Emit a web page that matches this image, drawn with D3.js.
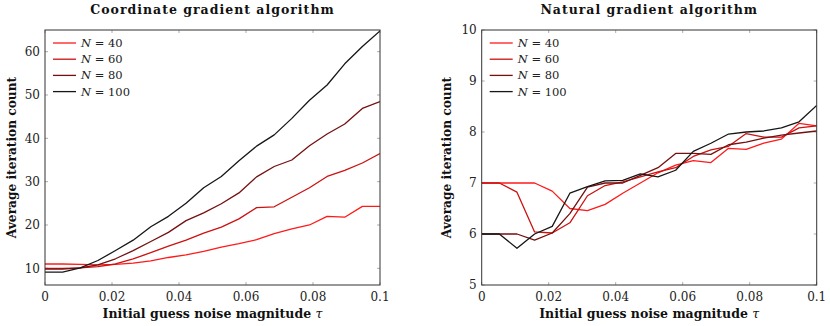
<!DOCTYPE html>
<html>
<head>
<meta charset="utf-8">
<script src="https://cdn.jsdelivr.net/npm/d3@7"></script>
<style>
  body { margin: 0; background: #fff; }
  svg { display: block; }
</style>
</head>
<body>
<svg id="chart" width="830" height="326"></svg>
<script>
// --- data ---
const tau = d3.range(20).map(i => i * 0.1 / 19);
const seriesNames = ["N = 40", "N = 60", "N = 80", "N = 100"];
const seriesColors = ["#ff1a1a", "#cc1111", "#741010", "#161616"];

// coordinate gradient
const coordN40 = [11, 11, 10.9, 10.8, 10.9, 11.2, 11.7, 12.5, 13.1, 13.9, 14.9, 15.7, 16.6, 18, 19.1, 20, 22, 21.8, 24.3, 24.3];
const coordN60 = [10, 10, 10.1, 10.4, 11, 12.2, 13.6, 15.1, 16.5, 18.1, 19.5, 21.4, 24, 24.2, 26.4, 28.6, 31.2, 32.6, 34.3, 36.5];
const coordN80 = [9.8, 9.8, 10.1, 10.8, 12.2, 14.1, 16.2, 18.3, 21, 22.8, 24.9, 27.4, 31.1, 33.5, 35, 38.3, 41, 43.3, 46.9, 48.5];
const coordN100 = [9.1, 9.1, 10.1, 11.8, 14.1, 16.5, 19.6, 22, 25, 28.6, 31.2, 34.8, 38.2, 40.8, 44.6, 48.8, 52.3, 57.2, 61.2, 64.8];

// natural gradient
const natN40 = [7, 7, 7, 7, 6.84, 6.5, 6.46, 6.58, 6.8, 7.0, 7.2, 7.35, 7.44, 7.4, 7.68, 7.66, 7.78, 7.86, 8.17, 8.12];
const natN60 = [7, 7, 6.82, 6.04, 6.02, 6.22, 6.75, 6.95, 7.02, 7.12, 7.22, 7.3, 7.52, 7.65, 7.72, 7.97, 7.9, 7.9, 8.08, 8.12];
const natN80 = [6, 6, 6, 5.88, 6.02, 6.4, 6.92, 7.0, 7.0, 7.15, 7.3, 7.58, 7.58, 7.56, 7.75, 7.8, 7.88, 7.94, 7.98, 8.02];
const natN100 = [6, 6, 5.72, 6.0, 6.15, 6.8, 6.93, 7.04, 7.05, 7.18, 7.12, 7.25, 7.62, 7.78, 7.96, 8.0, 8.02, 8.08, 8.2, 8.52];

const xTicks = [0, 0.02, 0.04, 0.06, 0.08, 0.1];
const coordYTicks = [10, 20, 30, 40, 50, 60];
const natYTicks = [5, 6, 7, 8, 9, 10];

const serif = "DejaVu Serif, serif";
const svg = d3.select("#chart");

function panel(opts) {
  const { left, right, top, bottom, yDomain, yTicks, series, title, yLabelX } = opts;
  const g = svg.append("g");
  const x = d3.scaleLinear().domain([0, 0.1]).range([left, right]);
  const y = d3.scaleLinear().domain(yDomain).range([bottom, top]);

  // ticks (inward, on all four sides)
  const tl = 3;
  xTicks.forEach(t => {
    g.append("line").attr("x1", x(t)).attr("x2", x(t)).attr("y1", bottom).attr("y2", bottom - tl)
      .attr("stroke", "#999").attr("stroke-width", 0.8);
    g.append("line").attr("x1", x(t)).attr("x2", x(t)).attr("y1", top).attr("y2", top + tl)
      .attr("stroke", "#999").attr("stroke-width", 0.8);
    g.append("text").attr("x", x(t)).attr("y", bottom + 16).attr("text-anchor", "middle")
      .style("font-family", serif).style("font-size", "12px").attr("fill", "#222")
      .text(t === 0 ? "0" : d3.format("~g")(t));
  });
  yTicks.forEach(t => {
    g.append("line").attr("x1", left).attr("x2", left + tl).attr("y1", y(t)).attr("y2", y(t))
      .attr("stroke", "#999").attr("stroke-width", 0.8);
    g.append("line").attr("x1", right).attr("x2", right - tl).attr("y1", y(t)).attr("y2", y(t))
      .attr("stroke", "#999").attr("stroke-width", 0.8);
    g.append("text").attr("x", left - 5).attr("y", y(t)).attr("dy", "0.35em").attr("text-anchor", "end")
      .style("font-family", serif).style("font-size", "12px").attr("fill", "#222")
      .text(t);
  });

  // lines
  const line = d3.line().x((d, i) => x(tau[i])).y(d => y(d));
  const clipId = "clip" + Math.round(left);
  g.append("clipPath").attr("id", clipId).append("rect")
    .attr("x", left).attr("y", top).attr("width", right - left).attr("height", bottom - top);
  series.forEach((s, k) => {
    g.append("path").datum(s).attr("d", line).attr("fill", "none")
      .attr("stroke", seriesColors[k]).attr("stroke-width", 1.3)
      .attr("stroke-linejoin", "round").attr("clip-path", `url(#${clipId})`);
  });

  // frame
  g.append("rect").attr("x", left).attr("y", top).attr("width", right - left).attr("height", bottom - top)
    .attr("fill", "none").attr("stroke", "#333").attr("stroke-width", 1);

  // legend
  series.forEach((s, k) => {
    const ly = top + 13 + k * 16.2;
    g.append("line").attr("x1", left + 8).attr("x2", left + 31).attr("y1", ly).attr("y2", ly)
      .attr("stroke", seriesColors[k]).attr("stroke-width", 1.3);
    const t = g.append("text").attr("x", left + 36).attr("y", ly).attr("dy", "0.35em")
      .style("font-family", serif).style("font-size", "11.5px").attr("fill", "#222");
    const parts = seriesNames[k].split(" = ");
    t.append("tspan").style("font-style", "italic").text(parts[0]);
    t.append("tspan").text(" = " + parts[1]);
  });

  // title
  g.append("text").attr("x", (left + right) / 2).attr("y", 14).attr("text-anchor", "middle")
    .style("font-family", serif).style("font-size", "12.5px").style("font-weight", "bold")
    .style("letter-spacing", "1px").attr("fill", "#111").text(title);

  // x label
  const xl = g.append("text").attr("x", (left + right) / 2).attr("y", 318).attr("text-anchor", "middle")
    .style("font-family", serif).style("font-size", "12.5px").style("font-weight", "bold").attr("fill", "#111");
  xl.append("tspan").text("Initial guess noise magnitude ");
  xl.append("tspan").style("font-style", "italic").style("font-weight", "normal").text("τ");

  // y label
  g.append("text").attr("transform", `translate(${yLabelX},${(top + bottom) / 2}) rotate(-90)`)
    .attr("text-anchor", "middle").attr("dy", "0.35em")
    .style("font-family", serif).style("font-size", "12.2px").style("font-weight", "bold")
    .attr("fill", "#111").text("Average iteration count");
}

panel({
  left: 45, right: 380, top: 30, bottom: 285,
  yDomain: [6.15, 65], yTicks: coordYTicks,
  series: [coordN40, coordN60, coordN80, coordN100],
  title: "Coordinate gradient algorithm", yLabelX: 12
});

panel({
  left: 481.7, right: 816.7, top: 30, bottom: 285,
  yDomain: [5, 10], yTicks: natYTicks,
  series: [natN40, natN60, natN80, natN100],
  title: "Natural gradient algorithm", yLabelX: 447
});
</script>
</body>
</html>
